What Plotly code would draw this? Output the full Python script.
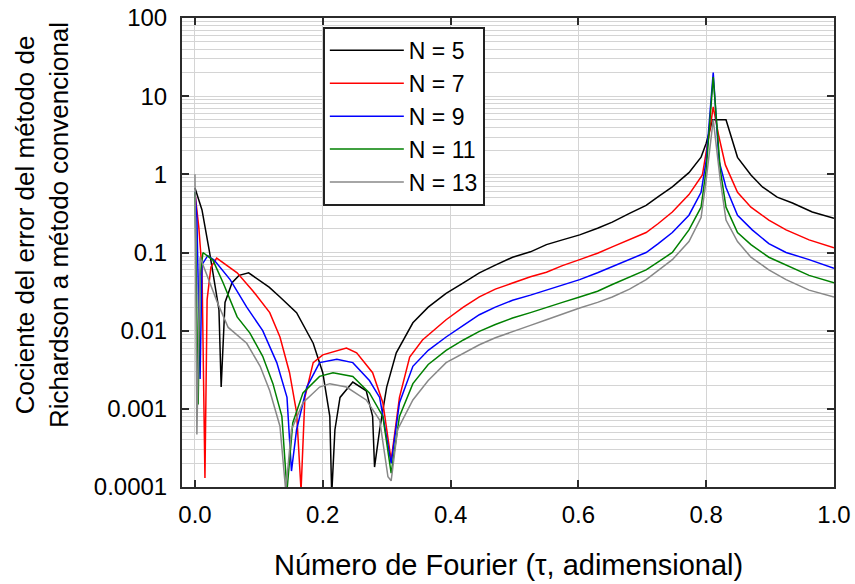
import plotly.graph_objects as go

# Fourier number (tau) and error-ratio samples for each N
tau_n5 = [0.0, 0.011, 0.023, 0.0375, 0.041, 0.047, 0.058, 0.069, 0.084, 0.097, 0.116, 0.133,
          0.159, 0.185, 0.2, 0.211, 0.214, 0.219, 0.227, 0.247, 0.268, 0.278, 0.281, 0.289,
          0.30, 0.315, 0.341, 0.365, 0.393, 0.42, 0.445, 0.47, 0.497, 0.525, 0.55, 0.575,
          0.602, 0.63, 0.653, 0.68, 0.706, 0.725, 0.747, 0.773,
          0.792, 0.80, 0.81, 0.831, 0.849, 0.87, 0.888, 0.911, 0.935, 0.966, 1.0]
ratio_n5 = [0.67, 0.35, 0.099, 0.0186, 0.0019, 0.023, 0.041, 0.051, 0.055, 0.046, 0.036, 0.027,
            0.017, 0.0069, 0.0029, 0.0008, 0.00008, 0.00054, 0.0014, 0.0022, 0.0017, 0.0008, 0.00018, 0.00054,
            0.0019, 0.0052, 0.0126, 0.020, 0.030, 0.041, 0.055, 0.069, 0.087, 0.102, 0.126, 0.145,
            0.168, 0.204, 0.245, 0.316, 0.40, 0.52, 0.69, 1.05,
            1.66, 2.5, 5.0, 5.0, 1.65, 0.98, 0.69, 0.51, 0.43, 0.33, 0.275]

tau_n7 = [0.0, 0.006, 0.011, 0.0156, 0.019, 0.025, 0.034, 0.066, 0.091, 0.117, 0.133, 0.148,
          0.159, 0.166, 0.172, 0.185, 0.2, 0.237, 0.253, 0.278, 0.294, 0.307, 0.32, 0.336,
          0.356, 0.393, 0.42, 0.445, 0.47, 0.497, 0.525, 0.55, 0.575, 0.602, 0.63, 0.653,
          0.68, 0.706, 0.725, 0.747, 0.773, 0.794, 0.805,
          0.811, 0.82, 0.83, 0.849, 0.87, 0.898, 0.925, 0.961, 1.0]
ratio_n7 = [0.58, 0.21, 0.06, 0.00013, 0.025, 0.065, 0.085, 0.055, 0.032, 0.017, 0.0083, 0.0029,
            0.0009, 0.00009, 0.0014, 0.0039, 0.0049, 0.006, 0.0052, 0.0029, 0.0012, 0.00022, 0.0014, 0.0046,
            0.0076, 0.0138, 0.020, 0.027, 0.034, 0.041, 0.049, 0.056, 0.068, 0.081, 0.098, 0.118,
            0.145, 0.18, 0.235, 0.33, 0.55, 0.98, 3.4,
            7.3, 3.0, 1.32, 0.59, 0.38, 0.26, 0.195, 0.145, 0.115]

tau_n9 = [0.0, 0.003, 0.008, 0.011, 0.02, 0.03, 0.055, 0.081, 0.106, 0.128, 0.144, 0.151,
          0.159, 0.175, 0.195, 0.222, 0.247, 0.273, 0.289, 0.307, 0.32, 0.341, 0.365, 0.393,
          0.42, 0.445, 0.47, 0.497, 0.525, 0.55, 0.575, 0.602, 0.63, 0.653, 0.68, 0.706,
          0.725, 0.747, 0.773, 0.792, 0.80, 0.811, 0.82, 0.831,
          0.849, 0.872, 0.898, 0.925, 0.961, 1.0]
ratio_n9 = [0.6, 0.28, 0.0024, 0.07, 0.091, 0.08, 0.045, 0.020, 0.010, 0.0039, 0.0014, 0.00016,
            0.00054, 0.0019, 0.0039, 0.0043, 0.0039, 0.0023, 0.0014, 0.0002, 0.0012, 0.0035, 0.0056, 0.0083,
            0.0117, 0.016, 0.020, 0.0245, 0.0285, 0.033, 0.0385, 0.045, 0.055, 0.066, 0.081, 0.10,
            0.13, 0.18, 0.30, 0.59, 1.5, 20.0, 1.5, 0.68,
            0.30, 0.195, 0.13, 0.10, 0.081, 0.063]

tau_n11 = [0.0, 0.005, 0.008, 0.0125, 0.028, 0.044, 0.066, 0.086, 0.106, 0.122, 0.136, 0.144,
           0.153, 0.169, 0.195, 0.216, 0.247, 0.273, 0.294, 0.307, 0.32, 0.341, 0.365, 0.393,
           0.42, 0.445, 0.47, 0.497, 0.525, 0.55, 0.575, 0.602, 0.63, 0.653, 0.68, 0.706,
           0.725, 0.747, 0.773, 0.792, 0.80, 0.811, 0.822, 0.831,
           0.849, 0.87, 0.898, 0.925, 0.961, 1.0]
ratio_n11 = [0.6, 0.00114, 0.05, 0.1, 0.08, 0.041, 0.015, 0.0093, 0.0047, 0.0021, 0.0008, 0.00009,
             0.00066, 0.0016, 0.0026, 0.0029, 0.0026, 0.0016, 0.0008, 0.00015, 0.0008, 0.0021, 0.0037, 0.0056,
             0.0076, 0.0098, 0.012, 0.0145, 0.017, 0.02, 0.023, 0.027, 0.032, 0.039, 0.048, 0.06,
             0.076, 0.10, 0.195, 0.38, 1.15, 17.6, 1.15, 0.38,
             0.18, 0.126, 0.087, 0.069, 0.051, 0.041]

tau_n13 = [0.0, 0.003, 0.008, 0.022, 0.035, 0.052, 0.081, 0.102, 0.117, 0.133, 0.142, 0.151,
           0.169, 0.195, 0.211, 0.237, 0.268, 0.289, 0.302, 0.307, 0.317, 0.341, 0.365, 0.393,
           0.42, 0.445, 0.47, 0.497, 0.525, 0.55, 0.575, 0.602, 0.63, 0.653, 0.68, 0.706,
           0.725, 0.747, 0.773, 0.792, 0.80, 0.811, 0.822, 0.831,
           0.849, 0.87, 0.898, 0.925, 0.961, 1.0]
ratio_n13 = [1.0, 0.00047, 0.087, 0.045, 0.023, 0.011, 0.0069, 0.0035, 0.0017, 0.0006, 0.00009, 0.00054,
             0.0012, 0.0019, 0.0021, 0.0019, 0.0013, 0.00072, 0.000135, 0.00012, 0.00054, 0.0013, 0.0023, 0.0039,
             0.0051, 0.0066, 0.0081, 0.0098, 0.0117, 0.0138, 0.0164, 0.0195, 0.023, 0.027, 0.034, 0.045,
             0.059, 0.081, 0.138, 0.28, 0.85, 5.0, 0.85, 0.26,
             0.138, 0.087, 0.06, 0.045, 0.033, 0.027]

series_names = ["N = 5", "N = 7", "N = 9", "N = 11", "N = 13"]
series_colors = ["#000000", "#ff0000", "#0000ff", "#008000", "#888888"]
series_tau = [tau_n5, tau_n7, tau_n9, tau_n11, tau_n13]
series_ratio = [ratio_n5, ratio_n7, ratio_n9, ratio_n11, ratio_n13]

y_tick_vals = [1e-4, 1e-3, 1e-2, 1e-1, 1, 10, 100]
y_tick_text = ["0.0001", "0.001", "0.01", "0.1", "1", "10", "100"]
x_tick_vals = [0.0, 0.2, 0.4, 0.6, 0.8, 1.0]

FONT = "Liberation Sans, Arial, sans-serif"
GRID = "#d4d4d4"
AXIS = "#2b2b2b"

fig = go.Figure()
for name, color, xs, ys in zip(series_names, series_colors, series_tau, series_ratio):
    fig.add_trace(go.Scatter(x=xs, y=ys, mode="lines", name=name,
                             line=dict(color=color, width=1.5)))

minor_vals = [m * 10.0 ** e for e in range(-4, 2) for m in range(2, 10)]

fig.update_layout(
    width=855, height=584,
    margin=dict(l=182, r=21, t=18, b=97),
    plot_bgcolor="white", paper_bgcolor="white",
    font=dict(family=FONT, color="black", size=24),
    showlegend=True,
    legend=dict(x=0.216, y=0.981, xanchor="left", yanchor="top",
                bgcolor="white", bordercolor="#222222", borderwidth=2,
                font=dict(size=23, family=FONT), itemwidth=74,
                tracegroupgap=0),
    xaxis=dict(range=[-0.0203, 1.0], tickvals=x_tick_vals, tickformat=".1f",
               showgrid=True, gridcolor=GRID, gridwidth=1, zeroline=False,
               showline=True, linecolor=AXIS, linewidth=2, mirror="ticks",
               ticks="inside", ticklen=7, tickwidth=2, tickcolor=AXIS,
               automargin=False, ticklabelstandoff=5,
               tickfont=dict(size=24, family=FONT)),
    yaxis=dict(type="log", range=[-4, 2], tickvals=y_tick_vals, ticktext=y_tick_text,
               showgrid=True, gridcolor=GRID, gridwidth=1, zeroline=False,
               showline=True, linecolor=AXIS, linewidth=2, mirror="ticks",
               ticks="inside", ticklen=7, tickwidth=2, tickcolor=AXIS,
               automargin=False, ticklabelstandoff=8,
               tickfont=dict(size=24, family=FONT),
               minor=dict(tickmode="array", tickvals=minor_vals, ticks="",
                          showgrid=True, gridcolor=GRID, gridwidth=1)),
    annotations=[
        dict(text="Número de Fourier (τ, adimensional)", xref="paper", yref="paper",
             x=0.5, y=-0.166, xanchor="center", yanchor="middle", showarrow=False,
             font=dict(size=29, family=FONT)),
        dict(text="Cociente del error del método de<br>Richardson a método convencional",
             xref="paper", yref="paper", x=-0.2147, y=0.5586, xanchor="center",
             yanchor="middle", textangle=-90, showarrow=False,
             font=dict(size=26, family=FONT)),
    ],
)

fig.write_html("out.html")
